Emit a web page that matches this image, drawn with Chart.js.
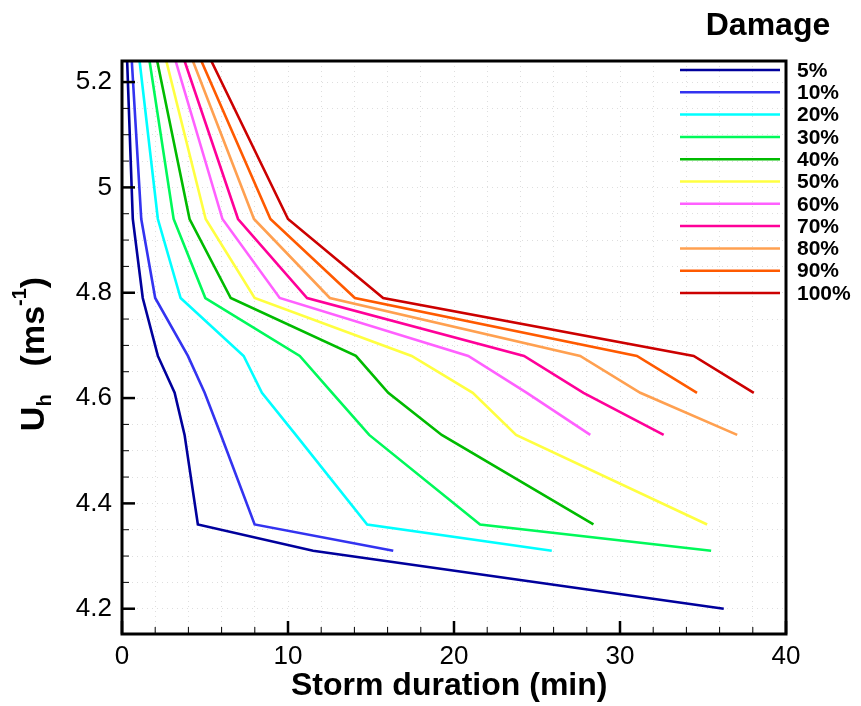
<!DOCTYPE html>
<html>
<head>
<meta charset="utf-8">
<script src="https://cdn.jsdelivr.net/npm/chart.js@4/dist/chart.umd.min.js"></script>
<style>
  html, body { margin: 0; padding: 0; background: #fff; }
  #wrap { width: 861px; height: 706px; }
</style>
</head>
<body>
<div id="wrap"><canvas id="myChart" width="861" height="706"></canvas></div>
<script>
// U_h levels shared by all curves (top to bottom)
const uhLevels = [5.24, 4.94, 4.79, 4.68, 4.61, 4.53, 4.36, 4.31, 4.2];

// storm duration (min) at each level, per damage class
const dur5   = [0.31, 0.65, 1.25, 2.16, 3.17, 3.77, 4.57, 11.51, 36.25];
const dur10  = [0.59, 1.16, 2.00, 3.97, 4.98, 5.96, 7.99, 16.34];
const dur20  = [1.06, 2.16, 3.53, 7.33, 8.43, 10.47, 14.77, 25.89];
const dur30  = [1.66, 3.11, 5.02, 10.71, 12.66, 14.89, 21.57, 35.49];
const dur40  = [2.12, 4.07, 6.55, 14.09, 16.04, 19.26, 28.40];
const dur50  = [2.67, 5.04, 7.99, 17.45, 21.13, 23.74, 35.25];
const dur60  = [3.23, 6.05, 9.50, 20.86, 24.39, 28.21];
const dur70  = [3.77, 6.99, 11.15, 24.22, 27.80, 32.63];
const dur80  = [4.27, 7.95, 12.52, 27.60, 31.22, 37.06];
const dur90  = [4.78, 8.94, 14.03, 31.02, 34.64];
const dur100 = [5.38, 10.00, 15.73, 34.44, 38.06];

const damageLabels = ["5%", "10%", "20%", "30%", "40%", "50%", "60%", "70%", "80%", "90%", "100%"];
const durations = [dur5, dur10, dur20, dur30, dur40, dur50, dur60, dur70, dur80, dur90, dur100];
const colors = ["#00009c", "#3333f0", "#00ffff", "#00f95a", "#00bb00", "#ffff40",
                "#ff60ff", "#ff0099", "#ffa050", "#ff5a00", "#cc0000"];

const yTickLabels = [4.2, 4.4, 4.6, 4.8, 5, 5.2];
const xTickLabels = [0, 10, 20, 30, 40];

const datasets = durations.map((d, i) => ({
    label: damageLabels[i],
    data: d.map((x, j) => ({ x: x, y: uhLevels[j] })),
    borderColor: colors[i],
    backgroundColor: colors[i],
    borderWidth: 2.6,
    pointRadius: 0,
    showLine: true,
    tension: 0,
    clip: 0
}));

function isLabelled(v, list) {
    return list.some(t => Math.abs(t - v) < 1e-6);
}

const framePlugin = {
    id: "frame",
    afterDraw(chart) {
        const ctx = chart.ctx;
        const a = chart.chartArea;
        const xs = chart.scales.x, ys = chart.scales.y;
        ctx.save();
        ctx.strokeStyle = "#000";

        // inward tick marks
        ys.ticks.forEach(t => {
            const p = ys.getPixelForValue(t.value);
            const major = isLabelled(t.value, yTickLabels);
            ctx.lineWidth = major ? 2.5 : 1;
            ctx.beginPath();
            ctx.moveTo(a.left, p);
            ctx.lineTo(a.left + (major ? 13 : 7), p);
            ctx.stroke();
        });
        xs.ticks.forEach(t => {
            const p = xs.getPixelForValue(t.value);
            const major = isLabelled(t.value, xTickLabels);
            ctx.lineWidth = major ? 2.5 : 1;
            ctx.beginPath();
            ctx.moveTo(p, a.bottom);
            ctx.lineTo(p, a.bottom - (major ? 13 : 7));
            ctx.stroke();
        });

        // frame
        ctx.lineWidth = 3;
        ctx.strokeRect(a.left, a.top, a.right - a.left, a.bottom - a.top);

        // legend
        ctx.font = "bold 21px 'Liberation Sans', Arial, sans-serif";
        ctx.textBaseline = "middle";
        ctx.textAlign = "left";
        chart.data.datasets.forEach((ds, i) => {
            const y = 70 + i * 22.3;
            ctx.strokeStyle = ds.borderColor;
            ctx.lineWidth = 2.5;
            ctx.beginPath();
            ctx.moveTo(680, y);
            ctx.lineTo(780, y);
            ctx.stroke();
            ctx.fillStyle = "#000";
            ctx.fillText(ds.label, 797, y + 1);
        });
        ctx.textBaseline = "alphabetic";
        ctx.font = "bold 32px 'Liberation Sans', Arial, sans-serif";
        ctx.textAlign = "center";
        ctx.fillText("Damage", 768, 35);

        // x title
        ctx.textAlign = "left";
        ctx.font = "bold 32px 'Liberation Sans', Arial, sans-serif";
        ctx.fillText("Storm duration (min)", 291, 695);

        // y title, rotated, with sub/superscripts
        ctx.translate(44, 354);
        ctx.rotate(-Math.PI / 2);
        const big = "bold 34px 'Liberation Sans', Arial, sans-serif";
        const small = "bold 20px 'Liberation Sans', Arial, sans-serif";
        // [text, font, baseline shift, extra gap after]
        const parts = [
            ["U", big, 0, 0], ["h", small, 7, 28], ["(ms", big, 0, 0], ["-1", small, -18, 0], [")", big, 0, 0]
        ];
        let w = 0;
        parts.forEach(p => { ctx.font = p[1]; w += ctx.measureText(p[0]).width + p[3]; });
        let x = -w / 2;
        parts.forEach(p => {
            ctx.font = p[1];
            ctx.fillText(p[0], x, p[2]);
            x += ctx.measureText(p[0]).width + p[3];
        });
        ctx.restore();
    }
};

const config = {
    type: "scatter",
    data: { datasets: datasets },
    options: {
        responsive: false,
        animation: false,
        layout: { padding: { top: 61, right: 75, left: 0, bottom: 0 } },
        plugins: {
            legend: { display: false },
            tooltip: { enabled: false }
        },
        scales: {
            x: {
                type: "linear",
                min: 0,
                max: 40,
                afterFit(scale) { scale.height = 72; },
                ticks: {
                    stepSize: 2,
                    autoSkip: false,
                    maxRotation: 0,
                    padding: 7,
                    color: "#000",
                    font: { family: "'Liberation Sans', Arial", size: 26 },
                    callback: v => isLabelled(v, xTickLabels) ? String(v) : ""
                },
                grid: { color: "rgba(0,0,0,0.13)", lineWidth: 1, drawTicks: false },
                border: { display: false, dash: [1, 4] }
            },
            y: {
                type: "linear",
                min: 4.152,
                max: 5.24,
                afterFit(scale) { scale.width = 122; },
                ticks: {
                    stepSize: 0.05,
                    autoSkip: false,
                    includeBounds: false,
                    padding: 10,
                    color: "#000",
                    font: { family: "'Liberation Sans', Arial", size: 26 },
                    callback: v => isLabelled(v, yTickLabels) ? String(Number(v.toFixed(1))) : ""
                },
                grid: { color: "rgba(0,0,0,0.13)", lineWidth: 1, drawTicks: false },
                border: { display: false, dash: [1, 4] }
            }
        }
    },
    plugins: [framePlugin]
};

new Chart(document.getElementById("myChart"), config);
</script>
</body>
</html>
